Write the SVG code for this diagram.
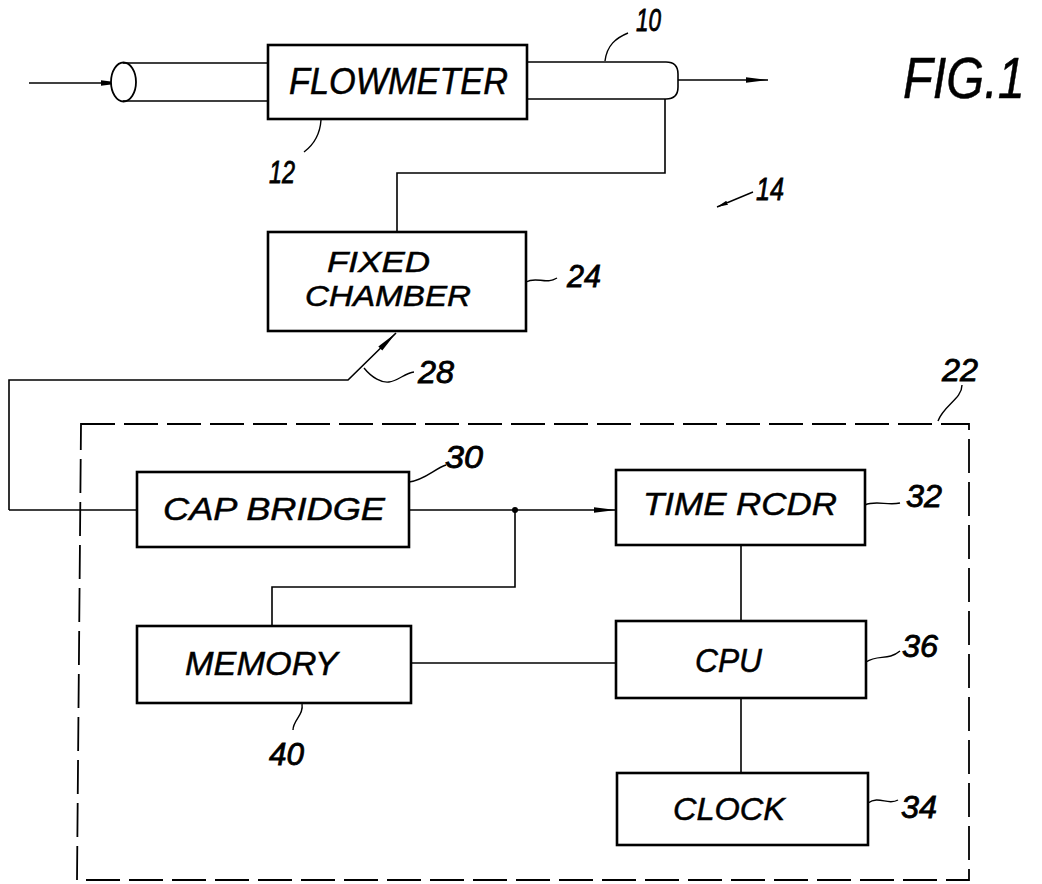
<svg xmlns="http://www.w3.org/2000/svg" width="1042" height="884" viewBox="0 0 1042 884">
<style>
.box{fill:#fff;stroke:#000;stroke-width:2.6}
.ln{fill:none;stroke:#000;stroke-width:1.6}
.ld{fill:none;stroke:#000;stroke-width:1.4}
.t{font-family:"Liberation Sans",Arial,sans-serif;font-style:italic;fill:#000;stroke:#000;stroke-width:0.5}
.num{font-size:32px;stroke-width:0.8}
</style>
<defs>
<marker id="ah" markerWidth="24" markerHeight="8" refX="22" refY="4" orient="auto" markerUnits="userSpaceOnUse">
<path d="M0,1.2 L22,4 L0,6.8 Z" fill="#000"/>
</marker>
<marker id="ahs" markerWidth="12" markerHeight="6" refX="11" refY="3" orient="auto" markerUnits="userSpaceOnUse">
<path d="M0,0.8 L11,3 L0,5.2 Z" fill="#000"/>
</marker>
</defs>
<rect width="1042" height="884" fill="#fff"/>

<g id="frame-22">
<path d="M81,424 H969 V880 H77 Z" fill="none" stroke="#000" stroke-width="1.8" stroke-dasharray="34 9"/>
</g>

<g id="connectors">
<path class="ln" d="M29,83 H123" marker-end="url(#ah)"/>
<ellipse cx="123.5" cy="82" rx="12.5" ry="19.5" fill="#fff" stroke="#000" stroke-width="1.8"/>
<path class="ln" d="M123,63 H268 M123,101 H268" stroke-width="2"/>
<path class="ln" d="M527,62 H666 Q678,62 678,74 V87 Q678,99 666,99 H527" stroke-width="2"/>
<path class="ln" d="M678,80 H768" marker-end="url(#ah)"/>
<path class="ln" d="M665,99 V173 H397 V232"/>
<path class="ln" d="M9,510 V380 H348 L396,333" marker-end="url(#ah)"/>
<path class="ln" d="M9,510 H137"/>
<path class="ln" d="M409,510 H616" marker-end="url(#ah)"/>
<circle cx="515" cy="510" r="3" fill="#000"/>
<path class="ln" d="M515,510 V587 H272 V626"/>
<path class="ln" d="M411,663 H616"/>
<path class="ln" d="M741,545 V621"/>
<path class="ln" d="M741,698 V773"/>
<path class="ld" d="M605,61 C607,45 616,38 628,33"/>
<path class="ld" d="M321,120 C320,135 312,146 304,152"/>
<path class="ld" d="M753,192 L717,207" marker-end="url(#ahs)"/>
<path class="ld" d="M526,282 C536,276 546,285 557,278"/>
<path class="ld" d="M364,368 C372,378 382,383 389,382 C398,381 405,373 414,372"/>
<path class="ld" d="M938,421 C944,405 962,399 962,385"/>
<path class="ld" d="M409,482 C425,480 434,469 446,465"/>
<path class="ld" d="M865,505 C876,500 888,506 900,503"/>
<path class="ld" d="M866,662 C878,654 888,661 900,651"/>
<path class="ld" d="M302,704 C304,715 293,720 293,730"/>
<path class="ld" d="M868,803 C879,795 888,806 898,800"/>
</g>

<g id="flowmeter-12">
<rect class="box" x="268" y="45" width="259" height="74"/>
<text class="t" x="289" y="94" font-size="36" textLength="219" lengthAdjust="spacingAndGlyphs">FLOWMETER</text>
</g>

<g id="fixed-chamber-24">
<rect class="box" x="268" y="232" width="258" height="99"/>
<text class="t" x="327" y="272" font-size="29" textLength="103" lengthAdjust="spacingAndGlyphs">FIXED</text>
<text class="t" x="305" y="306" font-size="29" textLength="166" lengthAdjust="spacingAndGlyphs">CHAMBER</text>
</g>

<g id="cap-bridge-30">
<rect class="box" x="137" y="472" width="272" height="75"/>
<text class="t" x="163" y="520" font-size="32" textLength="222" lengthAdjust="spacingAndGlyphs">CAP BRIDGE</text>
</g>

<g id="time-rcdr-32">
<rect class="box" x="616" y="470" width="249" height="75"/>
<text class="t" x="643" y="515" font-size="32" textLength="194" lengthAdjust="spacingAndGlyphs">TIME RCDR</text>
</g>

<g id="memory-40">
<rect class="box" x="137" y="626" width="274" height="77"/>
<text class="t" x="185" y="675" font-size="34" textLength="153" lengthAdjust="spacingAndGlyphs">MEMORY</text>
</g>

<g id="cpu-36">
<rect class="box" x="616" y="621" width="250" height="77"/>
<text class="t" x="695" y="672" font-size="33" textLength="67" lengthAdjust="spacingAndGlyphs">CPU</text>
</g>

<g id="clock-34">
<rect class="box" x="617" y="773" width="251" height="72"/>
<text class="t" x="673" y="820" font-size="32" textLength="112" lengthAdjust="spacingAndGlyphs">CLOCK</text>
</g>

<g id="labels">
<text class="t" transform="translate(903,98) scale(0.84,1)" x="0" y="0" font-size="58">FIG.1</text>
<text class="t num" x="636" y="31" textLength="25" lengthAdjust="spacingAndGlyphs">10</text>
<text class="t num" x="269" y="183" textLength="26" lengthAdjust="spacingAndGlyphs">12</text>
<text class="t num" x="756" y="200" textLength="28" lengthAdjust="spacingAndGlyphs">14</text>
<text class="t num" x="567" y="287" textLength="34" lengthAdjust="spacingAndGlyphs">24</text>
<text class="t num" x="418" y="383" textLength="36" lengthAdjust="spacingAndGlyphs">28</text>
<text class="t num" x="942" y="381" textLength="36" lengthAdjust="spacingAndGlyphs">22</text>
<text class="t num" x="445" y="468" textLength="38" lengthAdjust="spacingAndGlyphs">30</text>
<text class="t num" x="906" y="507" textLength="36" lengthAdjust="spacingAndGlyphs">32</text>
<text class="t num" x="902" y="657" textLength="36" lengthAdjust="spacingAndGlyphs">36</text>
<text class="t num" x="269" y="765" textLength="35" lengthAdjust="spacingAndGlyphs">40</text>
<text class="t num" x="901" y="818" textLength="36" lengthAdjust="spacingAndGlyphs">34</text>
</g>
</svg>
